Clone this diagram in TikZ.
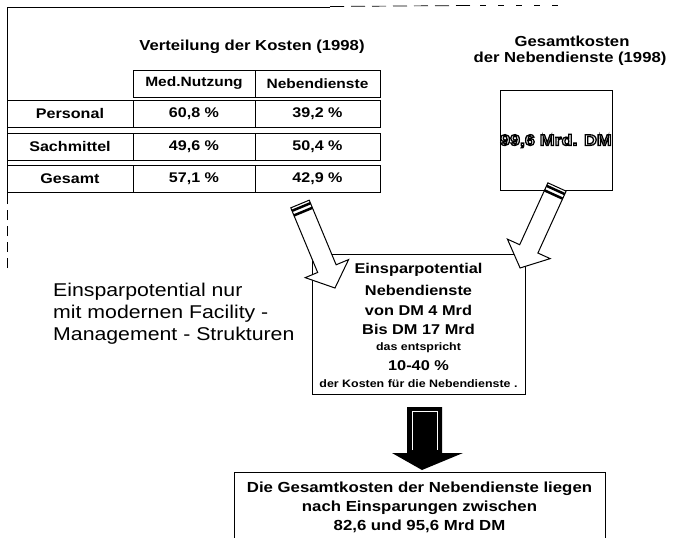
\documentclass[tikz,border=0pt]{standalone}
\usepackage{fontspec}
\setmainfont{Liberation Sans}[FakeStretch=1.15]
\usetikzlibrary{calc}

% white block arrow with a banded tail: tail point, direction angle, length
\newcommand\bandarrow[3]{%
  \begin{scope}[shift={(#1)}, rotate=#2]
    \draw[blockline] (0,10) -- ({#3-21},10) -- ({#3-21},23.5) -- (#3,0)
      -- ({#3-21},-23.5) -- ({#3-21},-10) -- (0,-10) -- cycle;
    \fill (2,-10) rectangle (4.5,10);
    \fill (7,-10) rectangle (9.5,10);
  \end{scope}}

% hollow lettering: white fill, black outline (PDF text render mode 2)
\newcommand\hollowtext[1]{%
  \special{pdf:literal direct 2 Tr 1.3 w 1 g 0 G}#1%
  \special{pdf:literal direct 0 Tr 0.4 w 0 g 0 G}}

\begin{document}
\begin{tikzpicture}[x=1pt,y=1pt,
  frameline/.style={line width=1pt},
  cell/.style={draw, line width=1pt, inner sep=0pt, minimum height=27pt,
    font=\fontsize{14}{16}\selectfont\bfseries},
  headcell/.style={cell, font=\fontsize{13.5}{16}\selectfont\bfseries},
  title/.style={anchor=base, inner sep=0pt, font=\fontsize{14.5}{17}\selectfont\bfseries},
  boxline/.style={anchor=base, inner sep=0pt, font=\fontsize{14.2}{17}\selectfont\bfseries},
  smallline/.style={anchor=base, inner sep=0pt, font=\fontsize{10.8}{12}\selectfont\bfseries},
  note/.style={anchor=base west, inner sep=0pt, font=\fontsize{18.5}{22}\selectfont},
  panel/.style={draw, line width=1pt, inner sep=0pt},
  blockline/.style={draw, fill=white, line width=1pt, line join=miter}
]
\useasboundingbox (0,0) rectangle (673,-538);

% outer frame remnants
\draw[line width=0.7pt, dash pattern=on 10pt off 6pt] (7,-268) -- (7,-200);
\draw[frameline] (7,-200) -- (7,-7) -- (330,-7);
\draw[line width=0.7pt, dash pattern=on 14pt off 7pt] (330,-6.5) -- (470,-5.5);
\draw[line width=0.7pt, dash pattern=on 6pt off 12pt] (480,-5) -- (565,-5);

% cost distribution table
\node[title] (ttl) at (252,-50) {Verteilung der Kosten (1998)};
\node[headcell, minimum width=122pt] (hmed) at (194,-83.5) {Med.Nutzung};
\node[headcell, minimum width=125pt] (hneb) at (317.5,-83.5) {Nebendienste};

\node[cell, minimum width=126pt] (r1) at (70,-113.5) {Personal};
\node[cell, minimum width=122pt] (r1a) at (194,-113.5) {60,8 \%};
\node[cell, minimum width=125pt] (r1b) at (317.5,-113.5) {39,2 \%};

\node[cell, minimum width=126pt] (r2) at (70,-146.5) {Sachmittel};
\node[cell, minimum width=122pt] (r2a) at (194,-146.5) {49,6 \%};
\node[cell, minimum width=125pt] (r2b) at (317.5,-146.5) {50,4 \%};

\node[cell, minimum width=126pt] (r3) at (70,-178.5) {Gesamt};
\node[cell, minimum width=122pt] (r3a) at (194,-178.5) {57,1 \%};
\node[cell, minimum width=125pt] (r3b) at (317.5,-178.5) {42,9 \%};

% total cost box
\node[title] (gt1) at (572,-46) {Gesamtkosten};
\node[title] (gt2) at (570,-63) {der Nebendienste (1998)};
\node[panel, minimum width=112pt, minimum height=100pt] (total) at (556,-140) {};
\node[inner sep=0pt, font=\fontsize{15.5}{18}\selectfont\bfseries] (totval) at (556,-141)
  {\hollowtext{99,6 Mrd. DM}};

% savings box
\node[panel, minimum width=213pt, minimum height=140pt] (save) at (418.5,-324) {};
\node[boxline] (s1) at (418.5,-273) {Einsparpotential};
\node[boxline] (s2) at (418.5,-295) {Nebendienste};
\node[boxline] (s3) at (418.5,-315) {von DM 4 Mrd};
\node[boxline] (s4) at (418.5,-334.5) {Bis DM 17 Mrd};
\node[smallline] (s5) at (418.5,-350.5) {das entspricht};
\node[boxline] (s6) at (418.5,-370) {10-40 \%};
\node[smallline] (s7) at (418.5,-387.5) {der Kosten für die Nebendienste .};

% side remark
\node[note] (n1) at (53,-296) {Einsparpotential nur};
\node[note] (n2) at (53,-318) {mit modernen Facility -};
\node[note] (n3) at (53,-340) {Management - Strukturen};

% result box
\node[panel, minimum width=371pt, minimum height=80pt, anchor=north] (res) at (419.5,-472) {};
\node[boxline, font=\fontsize{14.6}{17}\selectfont\bfseries] (e1) at (419.5,-492) {Die Gesamtkosten der Nebendienste liegen};
\node[boxline, font=\fontsize{14.6}{17}\selectfont\bfseries] (e2) at (419.5,-511) {nach Einsparungen zwischen};
\node[boxline, font=\fontsize{14.6}{17}\selectfont\bfseries] (e3) at (419.5,-530) {82,6 und 95,6 Mrd DM};

% arrows into the savings box
\coordinate (tailA) at (300,-204);
\coordinate (tailB) at (557,-187);
\bandarrow{tailA}{-67.4}{91}
\bandarrow{tailB}{-114.5}{89}

% solid arrow down to the result
\coordinate (dtop) at (424.5,-407);
\fill (407,-407) -- (442,-407) -- (442,-453) -- (463,-453) -- (422,-470)
  -- (392,-453) -- (407,-453) -- cycle;
\draw[white, line width=0.8pt] (412,-450) -- (412,-411) -- (437,-411) -- (437,-450);

\end{tikzpicture}
\end{document}
